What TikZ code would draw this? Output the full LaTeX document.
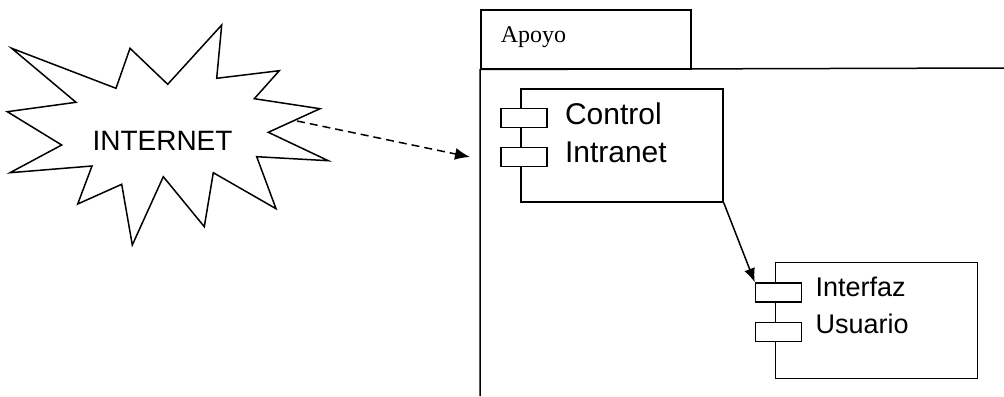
\documentclass[tikz,border=0pt]{standalone}
\usepackage{fontspec}
\setmainfont{Liberation Sans}
\newfontfamily\apoyofont{Liberation Serif}
\usetikzlibrary{arrows.meta,positioning}

\begin{document}
\begin{tikzpicture}[x=0.5pt, y=-0.5pt, line width=0.75pt,
    comp/.style={draw, rectangle, minimum width=101pt, inner sep=0pt},
    tab/.style={draw, rectangle, fill=white, anchor=west, minimum width=23pt, minimum height=9.5pt, inner sep=0pt},
    lbl/.style={anchor=base west, align=left, inner sep=0pt}]
      \useasboundingbox (0,0) rectangle (1004,396);

      % internet burst
      \draw (11.7,48.3) -- (116,88.3) -- (130,48.3) -- (167.7,84.3) -- (221.7,25) -- (216.7,78.3)
        -- (279.3,70.7) -- (254.3,98.7) -- (320,108.7) -- (268.3,132.3) -- (328.3,160.7)
        -- (256.7,156.7) -- (276,208.7) -- (213.3,172.7) -- (204.3,226.7) -- (163.3,176.7)
        -- (132.3,245) -- (121.7,184.3) -- (77.7,204) -- (92,166) -- (10,172.7) -- (61.7,145)
        -- (7.3,111.7) -- (76,102.3) -- cycle;
      \node (inet) at (162.5,141) {\fontsize{14}{17}\selectfont INTERNET};

      % package
      \node (pkgtab) [draw, rectangle, anchor=north west, minimum width=105pt, minimum height=29.5pt] at (480,9) {};
      \node (apoyo) [lbl, font=\apoyofont\fontsize{12}{14}\selectfont] at (500,42.7) {Apoyo};
      \draw (480,396) -- (pkgtab.south west) -- (1004,68);

      % components (base anchor sits on the last line)
      \node (ctrl) [comp, minimum height=56.5pt] at (622,145.5) {};
      \node (ctrltabA) [tab] at ([shift={(-20,29.5)}]ctrl.north west) {};
      \node (ctrltabB) [tab] at ([shift={(-20,68.5)}]ctrl.north west) {};
      \node (ctrltxt) [lbl, font=\fontsize{15}{19}\selectfont] at ([shift={(44,74)}]ctrl.north west) {Control\\Intranet};

      \node (iface) [comp, minimum height=57.8pt] at (876.5,320.5) {};
      \node (ifacetabA) [tab] at ([shift={(-20,30.6)}]iface.north west) {};
      \node (ifacetabB) [tab] at ([shift={(-20,69.8)}]iface.north west) {};
      \node (ifacetxt) [lbl, font=\fontsize{13.5}{18.6}\selectfont] at ([shift={(40,71.3)}]iface.north west) {Interfaz\\Usuario};

      \coordinate (burstedge) at (297,121);
      \coordinate (pkgleft) at (470,157);
      \draw[dash pattern=on 4pt off 2.5pt, -{Latex[length=7.5pt,width=6pt]}] (burstedge) -- (pkgleft);
      \draw[-{Latex[length=7pt,width=5.5pt]}] (ctrl.south east) -- (ifacetabA.north west);
    \end{tikzpicture}
\end{document}
